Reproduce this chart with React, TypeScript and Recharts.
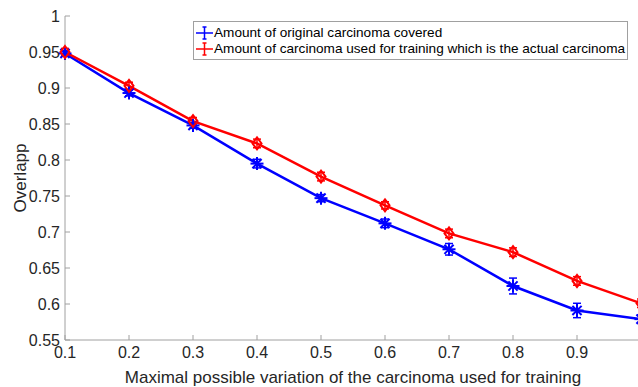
import React from 'react';
import { LineChart, Line, XAxis, YAxis, ErrorBar, Legend } from 'recharts';

const xValues = [0.1, 0.2, 0.3, 0.4, 0.5, 0.6, 0.7, 0.8, 0.9, 1.0];
const originalCovered = [0.948, 0.893, 0.848, 0.795, 0.747, 0.712, 0.676, 0.625, 0.591, 0.579];
const originalErr = [0.004, 0.004, 0.004, 0.006, 0.005, 0.006, 0.008, 0.011, 0.01, 0.006];
const actualCarcinoma = [0.95, 0.903, 0.854, 0.823, 0.777, 0.737, 0.698, 0.672, 0.632, 0.601];
const actualErr = [0.005, 0.005, 0.005, 0.006, 0.006, 0.005, 0.006, 0.006, 0.006, 0.006];

const xTicks = [0.1, 0.2, 0.3, 0.4, 0.5, 0.6, 0.7, 0.8, 0.9];
const xTicksAll = [0.1, 0.2, 0.3, 0.4, 0.5, 0.6, 0.7, 0.8, 0.9, 1.0];
const yTicks = [0.55, 0.6, 0.65, 0.7, 0.75, 0.8, 0.85, 0.9, 0.95, 1];

const seriesNames = [
  'Amount of original carcinoma covered',
  'Amount of carcinoma used for training which is the actual carcinoma',
];
const seriesColors = ['#0000ff', '#ff0000'];
const xTitle = 'Maximal possible variation of the carcinoma used for training';
const yTitle = 'Overlapp';

const data = xValues.map((x, i) => ({
  x,
  original: originalCovered[i],
  originalErr: originalErr[i],
  actual: actualCarcinoma[i],
  actualErr: actualErr[i],
}));

const FONT = '"Liberation Sans", Arial, Helvetica, sans-serif';
const AXIS = '#a0a0a0';
const TEXT = '#262626';

const fmt = (v: number) => String(parseFloat(v.toFixed(2)));

const StarDot = (props: any) => {
  const { cx, cy, index } = props;
  if (cx == null || cy == null) return <g key={`s${index}`} />;
  const r = 6.5;
  const d = r * 0.7071;
  return (
    <g key={`s${index}`} stroke={seriesColors[0]} strokeWidth={2}>
      <line x1={cx} y1={cy - r} x2={cx} y2={cy + r} />
      <line x1={cx - r} y1={cy} x2={cx + r} y2={cy} />
      <line x1={cx - d} y1={cy - d} x2={cx + d} y2={cy + d} />
      <line x1={cx - d} y1={cy + d} x2={cx + d} y2={cy - d} />
    </g>
  );
};

const DiamondDot = (props: any) => {
  const { cx, cy, index } = props;
  if (cx == null || cy == null) return <g key={`d${index}`} />;
  return (
    <path
      key={`d${index}`}
      d={`M${cx},${cy - 6}L${cx + 4.5},${cy}L${cx},${cy + 6}L${cx - 4.5},${cy}Z`}
      fill="none"
      stroke={seriesColors[1]}
      strokeWidth={2}
    />
  );
};

const renderLegend = () => (
  <div
    style={{
      border: `1px solid ${AXIS}`,
      background: '#fff',
      padding: '3px 2px 2px 1px',
      fontFamily: FONT,
      fontSize: 13.6,
      color: '#000',
      lineHeight: '16px',
      whiteSpace: 'nowrap',
    }}
  >
    {seriesNames.map((name, i) => (
      <div key={name} style={{ display: 'flex', alignItems: 'center', height: 16 }}>
        <svg width={19} height={16} style={{ display: 'block' }}>
          <g stroke={seriesColors[i]} strokeWidth={1.5}>
            <line x1={1} x2={18} y1={8} y2={8} />
            <line x1={9.5} x2={9.5} y1={2} y2={14} />
            <line x1={7.5} x2={11.5} y1={2} y2={2} />
            <line x1={7.5} x2={11.5} y1={14} y2={14} />
          </g>
        </svg>
        <span>{name}</span>
      </div>
    ))}
  </div>
);

export default function App() {
  return (
    <div
      style={{
        position: 'fixed',
        left: 0,
        top: 0,
        width: 638,
        height: 387,
        overflow: 'hidden',
        background: '#fff',
      }}
    >
      <LineChart
        width={661}
        height={387}
        data={data}
        margin={{ top: 16, right: 20, left: 0, bottom: 0 }}
        style={{ fontFamily: FONT }}
      >
        <XAxis
          dataKey="x"
          type="number"
          domain={[0.1, 1.0]}
          ticks={xTicks}
          tickFormatter={fmt}
          height={47}
          tickSize={-5}
          tickMargin={12}
          axisLine={{ stroke: AXIS }}
          tickLine={{ stroke: AXIS }}
          tick={{ fill: TEXT, fontSize: 16 }}
          label={{ value: xTitle, position: 'insideBottom', offset: 4, fill: TEXT, fontSize: 17 }}
        />
        <XAxis
          xAxisId="top"
          orientation="top"
          type="number"
          domain={[0.1, 1.0]}
          ticks={xTicksAll}
          height={0}
          tickSize={-5}
          tick={false}
          axisLine={{ stroke: AXIS }}
          tickLine={{ stroke: AXIS }}
        />
        <YAxis
          type="number"
          domain={[0.55, 1]}
          ticks={yTicks}
          tickFormatter={fmt}
          width={65}
          tickSize={-5}
          tickMargin={10}
          axisLine={{ stroke: AXIS }}
          tickLine={{ stroke: AXIS }}
          tick={{ fill: TEXT, fontSize: 16 }}
          label={{
            value: yTitle,
            angle: -90,
            position: 'insideLeft',
            offset: 20,
            fill: TEXT,
            fontSize: 17,
            style: { textAnchor: 'middle' },
          }}
        />
        <YAxis
          yAxisId="right"
          orientation="right"
          type="number"
          domain={[0.55, 1]}
          ticks={yTicks}
          width={0}
          tickSize={-5}
          tick={false}
          axisLine={{ stroke: AXIS }}
          tickLine={{ stroke: AXIS }}
        />
        <Legend
          layout="vertical"
          align="center"
          verticalAlign="middle"
          content={renderLegend}
          wrapperStyle={{ left: 193, top: 21, right: 'auto', bottom: 'auto', width: 'auto' }}
        />
        <Line
          dataKey="original"
          name={seriesNames[0]}
          stroke={seriesColors[0]}
          strokeWidth={2.5}
          dot={StarDot}
          isAnimationActive={false}
        >
          <ErrorBar dataKey="originalErr" direction="y" width={4} stroke={seriesColors[0]} strokeWidth={1.5} />
        </Line>
        <Line
          dataKey="actual"
          name={seriesNames[1]}
          stroke={seriesColors[1]}
          strokeWidth={2.5}
          dot={DiamondDot}
          isAnimationActive={false}
        >
          <ErrorBar dataKey="actualErr" direction="y" width={4} stroke={seriesColors[1]} strokeWidth={1.5} />
        </Line>
      </LineChart>
    </div>
  );
}
